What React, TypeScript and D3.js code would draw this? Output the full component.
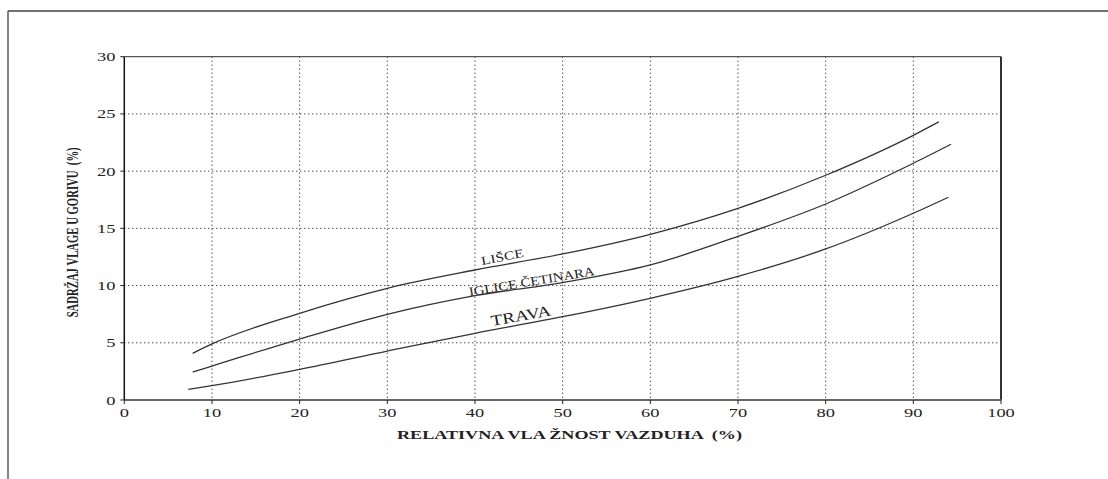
import React from "react";
import * as d3 from "d3";

const xTicks = [0, 10, 20, 30, 40, 50, 60, 70, 80, 90, 100];
const yTicks = [0, 5, 10, 15, 20, 25, 30];

const lisceX = [7.8, 10, 20, 30, 40, 50, 60, 70, 80, 90, 92.9];
const lisceY = [4.08, 4.9, 7.58, 9.76, 11.36, 12.76, 14.48, 16.75, 19.64, 23.13, 24.3];
const iglicaX = [7.8, 10, 20, 30, 40, 50, 60, 70, 80, 90, 94.3];
const iglicaY = [2.45, 2.97, 5.33, 7.49, 9.12, 10.26, 11.8, 14.3, 17.13, 20.69, 22.35];
const travaX = [7.3, 10, 20, 30, 40, 50, 60, 70, 80, 90, 94.0];
const travaY = [0.93, 1.25, 2.68, 4.28, 5.83, 7.28, 8.89, 10.8, 13.2, 16.32, 17.72];

const seriesNames = ["LIŠCE", "IGLICE ČETINARA", "TRAVA"];
const labelX = [40.8, 39.4, 41.9];
const labelY = [11.8, 9.09, 6.47];

const xTitle = "RELATIVNA VLA ŽNOST VAZDUHA \u00A0(%)";
const yTitle = "SADRŽAJ VLAGE U GORIVU \u00A0(%)";

export default function App() {
  const W = 1108, H = 479;
  const x = d3.scaleLinear().domain([0, 100]).range([124.3, 1001]);
  const y = d3.scaleLinear().domain([0, 30]).range([400, 56.7]);
  const line = d3
    .line<[number, number]>()
    .x((d) => x(d[0]))
    .y((d) => y(d[1]))
    .curve(d3.curveMonotoneX);

  const series = [
    lisceX.map((v, i) => [v, lisceY[i]] as [number, number]),
    iglicaX.map((v, i) => [v, iglicaY[i]] as [number, number]),
    travaX.map((v, i) => [v, travaY[i]] as [number, number]),
  ];
  const labelStyle = [
    { size: 12, angle: -11, len: 43 },
    { size: 12.5, angle: -9.5, len: 127 },
    { size: 15, angle: -10, len: 61 },
  ];
  const serif = "'Liberation Serif', 'Times New Roman', serif";
  const digitW = 9.2;

  return (
    <div style={{ position: "absolute", left: 0, top: 0 }}>
      <svg width={W} height={H} style={{ display: "block", background: "#fff" }}>
        {/* outer frame */}
        <line x1={8} y1={11} x2={W} y2={11} stroke="#444" strokeWidth={1.3} />
        <line x1={8} y1={11} x2={8} y2={H} stroke="#444" strokeWidth={1.3} />

        {/* grid */}
        {xTicks.filter((t) => t > 0 && t < 100).map((t) => (
          <line key={"gx" + t} x1={x(t)} x2={x(t)} y1={y(30)} y2={y(0)}
            stroke="#000" strokeWidth={1} strokeDasharray="1,3" />
        ))}
        {yTicks.filter((t) => t > 0 && t < 30).map((t) => (
          <line key={"gy" + t} x1={x(0)} x2={x(100)} y1={y(t)} y2={y(t)}
            stroke="#000" strokeWidth={1} strokeDasharray="1,3" />
        ))}

        {/* plot frame */}
        <line x1={x(0)} x2={x(100)} y1={y(30)} y2={y(30)} stroke="#555" strokeWidth={1.3} />
        <line x1={x(100)} x2={x(100)} y1={y(30)} y2={y(0)} stroke="#333" strokeWidth={2} />
        <line x1={x(0)} x2={x(100)} y1={y(0)} y2={y(0)} stroke="#666" strokeWidth={2} />
        <line x1={x(0)} x2={x(0)} y1={y(30)} y2={y(0)} stroke="#111" strokeWidth={1.5} />

        {/* ticks */}
        {xTicks.map((t) => (
          <g key={"xt" + t}>
            <line x1={x(t)} x2={x(t)} y1={y(0)} y2={y(0) + 4} stroke="#222" strokeWidth={1} />
            <text x={x(t) - (String(t).length * digitW) / 2} y={417} fontFamily={serif} fontSize={13}
              fill="#222" textLength={String(t).length * digitW} lengthAdjust="spacingAndGlyphs">
              {t}
            </text>
          </g>
        ))}
        {yTicks.map((t) => (
          <g key={"yt" + t}>
            <line x1={x(0) - 4} x2={x(0)} y1={y(t)} y2={y(t)} stroke="#222" strokeWidth={1} />
            <text x={115.5 - String(t).length * digitW} y={y(t) + 4.5} fontFamily={serif} fontSize={13}
              fill="#222" textLength={String(t).length * digitW} lengthAdjust="spacingAndGlyphs">
              {t}
            </text>
          </g>
        ))}

        {/* curves */}
        {series.map((s, i) => (
          <path key={"s" + i} d={line(s) || ""} fill="none" stroke="#333" strokeWidth={1.3} />
        ))}

        {/* curve labels */}
        {seriesNames.map((n, i) => (
          <text
            key={"l" + i}
            transform={`translate(${x(labelX[i])},${y(labelY[i])}) rotate(${labelStyle[i].angle})`}
            fontFamily={serif}
            fontSize={labelStyle[i].size}
            fill="#222"
            textLength={labelStyle[i].len}
            lengthAdjust="spacingAndGlyphs"
          >
            {n}
          </text>
        ))}

        {/* axis titles */}
        <text x={397} y={439} fontFamily={serif} fontWeight="bold" fontSize={13.5} fill="#222"
          textLength={345} lengthAdjust="spacingAndGlyphs">
          {xTitle}
        </text>
        <text
          transform={`translate(78,${(y(0) + y(30)) / 2 + 4}) rotate(-90)`}
          textAnchor="middle"
          fontFamily={serif}
          fontWeight="bold"
          fontSize={17}
          fill="#222"
          textLength={170}
          lengthAdjust="spacingAndGlyphs"
        >
          {yTitle}
        </text>
      </svg>
    </div>
  );
}
